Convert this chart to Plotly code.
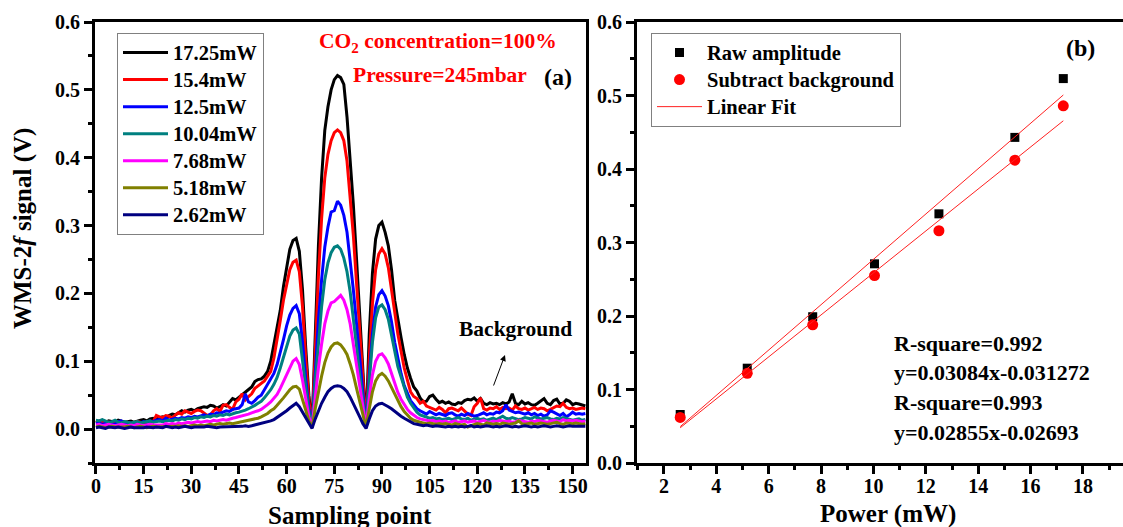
import plotly.graph_objects as go

W, H = 1123, 527

# ---------------- Data: panel (a) ----------------
sampling_point = list(range(155))

labels_a = ["17.25mW", "15.4mW", "12.5mW", "10.04mW", "7.68mW", "5.18mW", "2.62mW"]
colors_a = ["#000000", "#FF0000", "#0000FF", "#008080", "#FF00FF", "#808000", "#000080"]

p1725 = [
    0.012, 0.011, 0.013, 0.010, 0.012, 0.011, 0.010, 0.013, 0.012, 0.010,
    0.011, 0.012, 0.010, 0.012, 0.013, 0.014, 0.012, 0.015, 0.016, 0.014,
    0.017, 0.018, 0.016, 0.020, 0.022, 0.021, 0.024, 0.027, 0.025, 0.028,
    0.029, 0.027, 0.030, 0.031, 0.033, 0.032, 0.035, 0.034, 0.031, 0.033,
    0.036, 0.034, 0.040, 0.045, 0.043, 0.047, 0.050, 0.055, 0.058, 0.062,
    0.070, 0.073, 0.074, 0.078, 0.085, 0.100, 0.125, 0.150, 0.175, 0.210,
    0.240, 0.265, 0.278, 0.281, 0.262, 0.205, 0.120, 0.050, 0.004, 0.150,
    0.270, 0.370, 0.440, 0.475, 0.500, 0.515, 0.521, 0.518, 0.508, 0.460,
    0.400, 0.330, 0.250, 0.170, 0.090, 0.004, 0.140, 0.230, 0.280, 0.300,
    0.305, 0.290, 0.270, 0.235, 0.190, 0.160, 0.135, 0.110, 0.090, 0.075,
    0.062, 0.056, 0.046, 0.040, 0.041, 0.048, 0.050, 0.044, 0.039, 0.041,
    0.038, 0.040, 0.037, 0.036, 0.039, 0.038, 0.042, 0.044, 0.043, 0.046,
    0.041, 0.045, 0.038, 0.036, 0.039, 0.037, 0.038, 0.036, 0.039, 0.037,
    0.040, 0.052, 0.038, 0.036, 0.041, 0.037, 0.039, 0.036, 0.035, 0.038,
    0.041, 0.045, 0.038, 0.036, 0.042, 0.044, 0.037, 0.038, 0.043, 0.041,
    0.036, 0.038, 0.037, 0.035, 0.034,
]
p154 = [
    0.010, 0.012, 0.009, 0.011, 0.010, 0.008, 0.012, 0.010, 0.011, 0.009,
    0.010, 0.008, 0.009, 0.011, 0.010, 0.009, 0.010, 0.012, 0.011, 0.020,
    0.018, 0.017, 0.020, 0.019, 0.016, 0.021, 0.024, 0.022, 0.027, 0.025,
    0.023, 0.026, 0.028, 0.027, 0.024, 0.020, 0.021, 0.027, 0.030, 0.026,
    0.035, 0.036, 0.032, 0.029, 0.040, 0.044, 0.052, 0.043, 0.048, 0.052,
    0.060, 0.064, 0.067, 0.071, 0.078, 0.085, 0.105, 0.130, 0.160, 0.190,
    0.215, 0.235, 0.246, 0.249, 0.232, 0.180, 0.105, 0.042, 0.003, 0.120,
    0.225, 0.310, 0.370, 0.405, 0.425, 0.437, 0.441, 0.437, 0.425, 0.395,
    0.345, 0.285, 0.215, 0.145, 0.075, 0.004, 0.105, 0.185, 0.235, 0.258,
    0.266, 0.258, 0.238, 0.205, 0.170, 0.140, 0.115, 0.090, 0.072, 0.055,
    0.048, 0.045, 0.038, 0.041, 0.034, 0.032, 0.030, 0.028, 0.032, 0.029,
    0.024, 0.030, 0.031, 0.029, 0.027, 0.031, 0.026, 0.022, 0.020, 0.033,
    0.038, 0.046, 0.030, 0.028, 0.031, 0.030, 0.033, 0.029, 0.032, 0.030,
    0.031, 0.028, 0.034, 0.030, 0.029, 0.031, 0.028, 0.030, 0.032, 0.029,
    0.031, 0.030, 0.027, 0.029, 0.031, 0.034, 0.033, 0.038, 0.032, 0.030,
    0.031, 0.029, 0.030, 0.031, 0.030,
]
p125 = [
    0.008, 0.009, 0.007, 0.008, 0.010, 0.008, 0.007, 0.011, 0.012, 0.009,
    0.008, 0.009, 0.008, 0.010, 0.009, 0.011, 0.010, 0.012, 0.011, 0.013,
    0.014, 0.012, 0.016, 0.013, 0.014, 0.016, 0.015, 0.017, 0.016, 0.018,
    0.017, 0.019, 0.018, 0.020, 0.021, 0.019, 0.022, 0.021, 0.024, 0.023,
    0.025, 0.027, 0.026, 0.029, 0.030, 0.031, 0.036, 0.052, 0.040, 0.038,
    0.042, 0.047, 0.050, 0.058, 0.065, 0.072, 0.082, 0.095, 0.112, 0.132,
    0.152, 0.168, 0.178, 0.182, 0.170, 0.128, 0.075, 0.030, 0.003, 0.090,
    0.160, 0.220, 0.268, 0.298, 0.320, 0.322, 0.336, 0.330, 0.315, 0.290,
    0.252, 0.205, 0.155, 0.102, 0.052, 0.003, 0.080, 0.140, 0.180, 0.198,
    0.204, 0.196, 0.182, 0.158, 0.128, 0.104, 0.082, 0.064, 0.052, 0.042,
    0.036, 0.030, 0.027, 0.025, 0.022, 0.026, 0.024, 0.021, 0.023, 0.022,
    0.020, 0.023, 0.024, 0.021, 0.019, 0.022, 0.020, 0.023, 0.021, 0.019,
    0.020, 0.022, 0.024, 0.021, 0.023, 0.022, 0.025, 0.024, 0.027, 0.036,
    0.028, 0.026, 0.024, 0.025, 0.023, 0.022, 0.024, 0.021, 0.023, 0.020,
    0.022, 0.019, 0.021, 0.027, 0.025, 0.022, 0.020, 0.023, 0.018, 0.021,
    0.025, 0.022, 0.023, 0.022, 0.023,
]
p1004 = [
    0.013, 0.012, 0.014, 0.012, 0.010, 0.011, 0.013, 0.010, 0.009, 0.011,
    0.010, 0.009, 0.010, 0.011, 0.009, 0.010, 0.011, 0.012, 0.010, 0.011,
    0.012, 0.011, 0.012, 0.013, 0.012, 0.014, 0.013, 0.015, 0.014, 0.016,
    0.015, 0.017, 0.016, 0.018, 0.017, 0.019, 0.018, 0.020, 0.019, 0.021,
    0.020, 0.022, 0.021, 0.023, 0.024, 0.025, 0.026, 0.028, 0.030, 0.032,
    0.035, 0.038, 0.041, 0.046, 0.052, 0.058, 0.066, 0.076, 0.090, 0.106,
    0.122, 0.137, 0.146, 0.149, 0.140, 0.105, 0.062, 0.025, 0.003, 0.070,
    0.130, 0.180, 0.220, 0.245, 0.260, 0.268, 0.270, 0.265, 0.252, 0.232,
    0.202, 0.165, 0.122, 0.080, 0.040, 0.003, 0.070, 0.128, 0.164, 0.180,
    0.183, 0.176, 0.162, 0.138, 0.112, 0.092, 0.077, 0.062, 0.047, 0.038,
    0.031, 0.025, 0.021, 0.019, 0.018, 0.016, 0.017, 0.015, 0.016, 0.014,
    0.015, 0.016, 0.014, 0.015, 0.017, 0.015, 0.014, 0.016, 0.013, 0.015,
    0.016, 0.014, 0.015, 0.013, 0.015, 0.016, 0.014, 0.017, 0.019, 0.016,
    0.015, 0.017, 0.016, 0.014, 0.015, 0.017, 0.016, 0.015, 0.018, 0.016,
    0.015, 0.016, 0.017, 0.015, 0.014, 0.016, 0.015, 0.017, 0.016, 0.015,
    0.013, 0.014, 0.015, 0.013, 0.014,
]
p768 = [
    0.006, 0.007, 0.005, 0.006, 0.007, 0.006, 0.005, 0.006, 0.007, 0.006,
    0.005, 0.006, 0.005, 0.007, 0.006, 0.005, 0.006, 0.007, 0.006, 0.006,
    0.007, 0.006, 0.008, 0.007, 0.008, 0.007, 0.009, 0.008, 0.009, 0.010,
    0.009, 0.010, 0.011, 0.010, 0.011, 0.012, 0.011, 0.013, 0.012, 0.013,
    0.014, 0.013, 0.015, 0.016, 0.017, 0.018, 0.019, 0.021, 0.022, 0.024,
    0.025, 0.027, 0.029, 0.032, 0.036, 0.040, 0.045, 0.051, 0.060, 0.070,
    0.081, 0.092, 0.100, 0.104, 0.095, 0.072, 0.042, 0.018, 0.003, 0.050,
    0.090, 0.125, 0.155, 0.174, 0.186, 0.188, 0.192, 0.197, 0.190, 0.176,
    0.155, 0.125, 0.094, 0.060, 0.030, 0.003, 0.046, 0.080, 0.100, 0.109,
    0.111, 0.105, 0.096, 0.082, 0.067, 0.054, 0.044, 0.036, 0.029, 0.024,
    0.020, 0.017, 0.015, 0.014, 0.013, 0.012, 0.013, 0.011, 0.012, 0.011,
    0.012, 0.010, 0.011, 0.012, 0.010, 0.011, 0.012, 0.010, 0.011, 0.012,
    0.010, 0.011, 0.013, 0.011, 0.010, 0.012, 0.011, 0.013, 0.012, 0.011,
    0.012, 0.010, 0.011, 0.013, 0.012, 0.011, 0.010, 0.012, 0.011, 0.013,
    0.012, 0.011, 0.010, 0.012, 0.013, 0.012, 0.011, 0.014, 0.012, 0.013,
    0.012, 0.013, 0.012, 0.011, 0.012,
]
p518 = [
    0.003, 0.004, 0.003, 0.002, 0.003, 0.004, 0.003, 0.003, 0.002, 0.003,
    0.004, 0.003, 0.002, 0.003, 0.004, 0.003, 0.002, 0.003, 0.004, 0.003,
    0.003, 0.004, 0.003, 0.004, 0.003, 0.004, 0.005, 0.004, 0.005, 0.004,
    0.005, 0.006, 0.005, 0.006, 0.005, 0.006, 0.007, 0.006, 0.007, 0.008,
    0.007, 0.008, 0.009, 0.008, 0.009, 0.010, 0.011, 0.012, 0.012, 0.014,
    0.015, 0.016, 0.018, 0.020, 0.023, 0.027, 0.030, 0.035, 0.040, 0.046,
    0.052, 0.058, 0.062, 0.063, 0.059, 0.045, 0.028, 0.012, 0.002, 0.030,
    0.055, 0.078, 0.098, 0.112, 0.121, 0.126, 0.127, 0.124, 0.118, 0.110,
    0.096, 0.080, 0.060, 0.040, 0.020, 0.002, 0.030, 0.055, 0.071, 0.079,
    0.082, 0.078, 0.071, 0.061, 0.051, 0.041, 0.033, 0.026, 0.021, 0.016,
    0.013, 0.011, 0.010, 0.009, 0.008, 0.009, 0.008, 0.007, 0.008, 0.007,
    0.008, 0.007, 0.006, 0.008, 0.007, 0.006, 0.007, 0.003, 0.005, 0.007,
    0.008, 0.007, 0.006, 0.009, 0.008, 0.007, 0.008, 0.007, 0.009, 0.008,
    0.007, 0.008, 0.009, 0.012, 0.008, 0.007, 0.008, 0.009, 0.007, 0.008,
    0.009, 0.008, 0.007, 0.008, 0.009, 0.010, 0.008, 0.007, 0.009, 0.008,
    0.008, 0.009, 0.008, 0.007, 0.008,
]
p262 = [
    0.002, 0.003, 0.002, 0.001, 0.003, 0.002, 0.002, 0.003, 0.002, 0.001,
    0.002, 0.003, 0.002, 0.002, 0.001, 0.002, 0.003, 0.002, 0.002, 0.003,
    0.003, 0.002, 0.004, 0.003, 0.002, 0.003, 0.002, 0.003, 0.004, 0.003,
    0.002, 0.003, 0.003, 0.002, 0.003, 0.004, 0.003, 0.003, 0.002, 0.003,
    0.003, 0.004, 0.003, 0.004, 0.004, 0.003, 0.004, 0.005, 0.004, 0.005,
    0.006, 0.007, 0.008, 0.009, 0.010, 0.012, 0.014, 0.017, 0.020, 0.023,
    0.027, 0.031, 0.035, 0.038, 0.033, 0.025, 0.015, 0.007, 0.001, 0.015,
    0.027, 0.038, 0.047, 0.055, 0.060, 0.063, 0.064, 0.063, 0.060, 0.055,
    0.047, 0.038, 0.028, 0.018, 0.008, 0.001, 0.015, 0.027, 0.034, 0.037,
    0.038, 0.036, 0.033, 0.030, 0.026, 0.022, 0.019, 0.016, 0.013, 0.010,
    0.008, 0.007, 0.006, 0.005, 0.006, 0.005, 0.004, 0.005, 0.004, 0.004,
    0.003, 0.004, 0.003, 0.004, 0.003, 0.004, 0.003, 0.004, 0.005, 0.003,
    0.004, 0.003, 0.004, 0.005, 0.004, 0.003, 0.004, 0.003, 0.004, 0.005,
    0.004, 0.003, 0.004, 0.003, 0.004, 0.005, 0.004, 0.003, 0.004, 0.003,
    0.004, 0.005, 0.004, 0.003, 0.004, 0.005, 0.004, 0.003, 0.004, 0.005,
    0.004, 0.004, 0.005, 0.004, 0.004,
]
series_a = [p1725, p154, p125, p1004, p768, p518, p262]

# ---------------- Data: panel (b) ----------------
power_mw = [2.62, 5.18, 7.68, 10.04, 12.5, 15.4, 17.25]
raw_amplitude = [0.066, 0.129, 0.199, 0.271, 0.339, 0.443, 0.523]
subtract_bg = [0.062, 0.122, 0.188, 0.255, 0.316, 0.412, 0.486]
fit_x = [2.62, 17.25]
fit_raw_y = [0.0495, 0.5007]
fit_sub_y = [0.0479, 0.4656]

FONT = "Liberation Serif"

def px(x):
    return x / W

def py(y):
    return 1 - y / H

def big(t):
    return '<span style="font-size:20.5px">' + t + '</span>'

fig = go.Figure()

for lab, col, ys in zip(labels_a, colors_a, series_a):
    fig.add_trace(go.Scatter(
        x=sampling_point, y=ys, mode="lines", name=big(lab),
        line=dict(color=col, width=3), xaxis="x", yaxis="y", legend="legend",
    ))

fig.add_trace(go.Scatter(
    x=power_mw, y=raw_amplitude, mode="markers", name=big("Raw amplitude"),
    marker=dict(symbol="square", size=9, color="black"),
    xaxis="x2", yaxis="y2", legend="legend2",
))
fig.add_trace(go.Scatter(
    x=power_mw, y=subtract_bg, mode="markers", name=big("Subtract background"),
    marker=dict(symbol="circle", size=11, color="#FF0000"),
    xaxis="x2", yaxis="y2", legend="legend2",
))
fig.add_trace(go.Scatter(
    x=fit_x, y=fit_raw_y, mode="lines", name=big("Linear Fit"),
    line=dict(color="#FF2020", width=1),
    xaxis="x2", yaxis="y2", legend="legend2",
))
fig.add_trace(go.Scatter(
    x=fit_x, y=fit_sub_y, mode="lines", name="Linear Fit",
    line=dict(color="#FF2020", width=1), showlegend=False,
    xaxis="x2", yaxis="y2", legend="legend2",
))

tickfont = dict(family=FONT, size=20, color="black", weight="bold")
axis_common = dict(
    showline=True, linecolor="black", linewidth=3,
    ticks="outside", ticklen=8, tickwidth=3, tickcolor="black",
    showgrid=False, zeroline=False, tickfont=tickfont, automargin=False,
)
minor_style = dict(ticks="outside", ticklen=4, tickwidth=3, tickcolor="black")

fig.update_layout(
    width=W, height=H,
    margin=dict(l=0, r=0, t=0, b=0, pad=0, autoexpand=False),
    paper_bgcolor="white", plot_bgcolor="white",
    font=dict(family=FONT, color="black"),
    xaxis=dict(domain=[px(95), px(586)], range=[-0.3, 154.2],
               tickmode="array", tickvals=list(range(0, 151, 15)),
               minor=dict(dtick=7.5, tick0=0, **minor_style),
               mirror=True, anchor="y", ticklabelstandoff=-5, **axis_common),
    yaxis=dict(domain=[py(463), py(22)], range=[-0.05, 0.6],
               tickvals=[0, 0.1, 0.2, 0.3, 0.4, 0.5, 0.6], tickformat=".1f",
               minor=dict(dtick=0.05, tick0=0, **minor_style),
               mirror=True, anchor="x", **axis_common),
    xaxis2=dict(domain=[px(637), 1.0], range=[0.97, 19.53],
                tickvals=list(range(2, 19, 2)),
                minor=dict(dtick=1, tick0=0, **minor_style),
                mirror=True, anchor="y2", ticklabelstandoff=-5, **axis_common),
    yaxis2=dict(domain=[py(463), py(22)], range=[0, 0.6],
                tickvals=[0, 0.1, 0.2, 0.3, 0.4, 0.5, 0.6], tickformat=".1f",
                minor=dict(dtick=0.05, tick0=0, **minor_style),
                mirror=False, anchor="x2", **axis_common),
    legend=dict(x=px(117), y=py(33), xanchor="left", yanchor="top",
                bordercolor="#808080", borderwidth=1, bgcolor="white",
                font=dict(family=FONT, size=18.5, color="black", weight="bold"),
                itemwidth=45, tracegroupgap=0),
    legend2=dict(x=px(651), y=py(33), xanchor="left", yanchor="top",
                 bordercolor="#808080", borderwidth=1, bgcolor="white",
                 font=dict(family=FONT, size=18.5, color="black", weight="bold"),
                 itemwidth=45, tracegroupgap=0),
)

def ann(text, x, y, size, color="black", xanchor="center", yanchor="middle", angle=0):
    fig.add_annotation(text=text, x=px(x), y=py(y), xref="paper", yref="paper",
                       showarrow=False, xanchor=xanchor, yanchor=yanchor, textangle=angle,
                       font=dict(family=FONT, size=size, color=color, weight="bold"))

ann("CO<sub>2</sub> concentration=100%", 438, 42, 21.5, "#FF0000")
ann("Pressure=245mbar", 440, 75, 21.5, "#FF0000")
ann("(a)", 558, 77, 24)
ann("(b)", 1080, 48, 24)
ann("Background", 515, 329, 21.5)
ann("Sampling point", 350, 515, 25)
ann("Power (mW)", 888, 514, 25)
ann("WMS-2<i>f</i> signal (V)", 23, 229, 25, angle=-90)
for i, t in enumerate(["R-square=0.992", "y=0.03084x-0.031272", "R-square=0.993", "y=0.02855x-0.02693"]):
    ann(t, 892, [343, 372, 402, 432][i], 22, xanchor="left")

# arrow pointing to background
fig.add_annotation(x=px(505), y=py(355), xref="paper", yref="paper", text="",
                   showarrow=True, ax=-12, ay=32, axref="pixel", ayref="pixel",
                   arrowhead=2, arrowsize=1.2, arrowwidth=1, arrowcolor="black")

fig.write_html("out.html")
